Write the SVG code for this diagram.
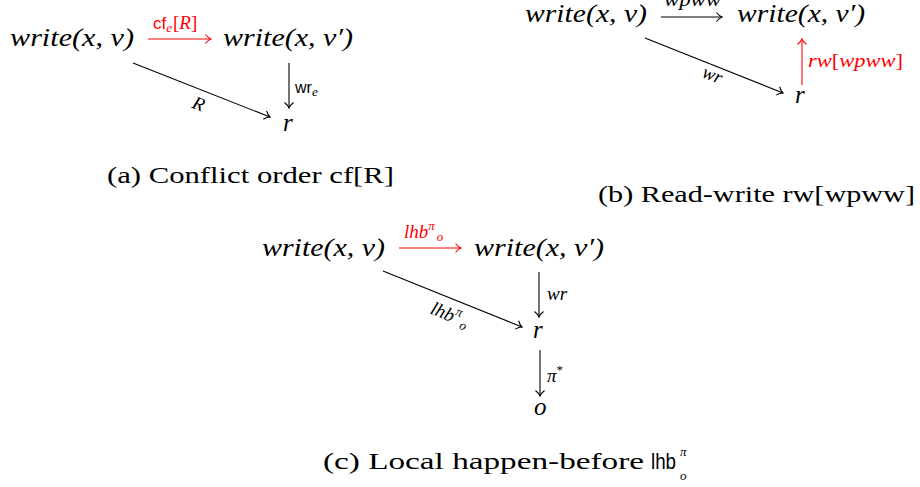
<svg xmlns="http://www.w3.org/2000/svg" width="920" height="487" viewBox="0 0 920 487">
<style>
.m{font-family:"Liberation Serif",serif;font-style:italic;font-size:25px;fill:#000}
.cap{font-family:"Liberation Serif",serif;font-size:23px;fill:#000}
.lb{font-family:"Liberation Serif",serif;font-style:italic;font-size:19px;fill:#000}
.sf{font-family:"Liberation Sans",sans-serif;font-style:normal}
.red{fill:#ff0000}
.ln{stroke:#000;stroke-width:1.1;fill:none}
.lnr{stroke:#ff0000;stroke-width:1.1;fill:none}
</style>
<defs>
<marker id="ah" markerUnits="userSpaceOnUse" markerWidth="12" markerHeight="12" viewBox="-7 -6 8 12" refX="0" refY="0" orient="auto">
<path d="M-5.5,-4.5 C-3.5,-2 -1.5,-0.6 0,0 C-1.5,0.6 -3.5,2 -5.5,4.5" fill="none" stroke="#000" stroke-width="1.1"/>
</marker>
<marker id="ahr" markerUnits="userSpaceOnUse" markerWidth="12" markerHeight="12" viewBox="-7 -6 8 12" refX="0" refY="0" orient="auto">
<path d="M-5.5,-4.5 C-3.5,-2 -1.5,-0.6 0,0 C-1.5,0.6 -3.5,2 -5.5,4.5" fill="none" stroke="#ff0000" stroke-width="1.1"/>
</marker>
</defs>

<g id="connectors">
<!-- panel a -->
<line class="lnr" x1="148" y1="39" x2="211" y2="39" marker-end="url(#ahr)"/>
<line class="ln" x1="133" y1="63" x2="270" y2="117" marker-end="url(#ah)"/>
<line class="ln" x1="289" y1="63" x2="289" y2="108" marker-end="url(#ah)"/>
<!-- panel b -->
<line class="ln" x1="661" y1="17" x2="722" y2="17" marker-end="url(#ah)"/>
<line class="ln" x1="645" y1="38" x2="783" y2="93" marker-end="url(#ah)"/>
<line class="lnr" x1="802" y1="85" x2="802" y2="39" marker-end="url(#ahr)"/>
<!-- panel c -->
<line class="lnr" x1="399" y1="248" x2="461" y2="248" marker-end="url(#ahr)"/>
<line class="ln" x1="383" y1="271" x2="522" y2="327" marker-end="url(#ah)"/>
<line class="ln" x1="539" y1="272" x2="539" y2="317" marker-end="url(#ah)"/>
<line class="ln" x1="540" y1="350" x2="540" y2="396" marker-end="url(#ah)"/>
<!-- labels -->
<text class="lb red" x="153" y="29"><tspan class="sf" font-size="17">cf</tspan><tspan dy="3" font-size="13">e</tspan><tspan dy="-3" dx="1" font-style="normal">[</tspan>R<tspan font-style="normal">]</tspan></text>
<text class="lb" x="295" y="93"><tspan class="sf" font-size="16">wr</tspan><tspan dy="3" font-size="13">e</tspan></text>
<text class="lb" x="199" y="110" text-anchor="middle" transform="rotate(21.5 199 103)">R</text>
<text class="lb" x="664" y="6" textLength="57" lengthAdjust="spacingAndGlyphs">wpww</text>
<text class="lb" x="713" y="81" text-anchor="middle" transform="rotate(21.7 713 74)">wr</text>
<text class="lb red" x="808" y="67" textLength="95" lengthAdjust="spacingAndGlyphs">rw<tspan font-style="normal">[</tspan>wpww<tspan font-style="normal">]</tspan></text>
<text class="lb red" x="404" y="238">lhb<tspan dy="-8" font-size="13">π</tspan><tspan dy="11" font-size="13" dx="2">o</tspan></text>
<text class="lb" x="450" y="321" text-anchor="middle" transform="rotate(22 450 314)">lhb<tspan dy="-8" font-size="13">π</tspan><tspan dy="11" font-size="13" dx="2">o</tspan></text>
<text class="lb" x="547" y="300">wr</text>
<text class="lb" x="547" y="382">π<tspan dy="-8" font-size="13" font-style="normal">*</tspan></text>
</g>

<g id="node-a-w1"><text class="m" x="10" y="46" textLength="124" lengthAdjust="spacingAndGlyphs">write(x, v)</text></g>
<g id="node-a-w2"><text class="m" x="223" y="46" textLength="130" lengthAdjust="spacingAndGlyphs">write(x, v′)</text></g>
<g id="node-a-r"><text class="m" x="283" y="131">r</text></g>
<g id="caption-a"><text class="cap" x="107" y="183" textLength="287" lengthAdjust="spacingAndGlyphs">(a) Conflict order cf[R]</text></g>

<g id="node-b-w1"><text class="m" x="525" y="22" textLength="122" lengthAdjust="spacingAndGlyphs">write(x, v)</text></g>
<g id="node-b-w2"><text class="m" x="737" y="22" textLength="128" lengthAdjust="spacingAndGlyphs">write(x, v′)</text></g>
<g id="node-b-r"><text class="m" x="795" y="103">r</text></g>
<g id="caption-b"><text class="cap" x="598" y="202" textLength="317" lengthAdjust="spacingAndGlyphs">(b) Read-write rw[wpww]</text></g>

<g id="node-c-w1"><text class="m" x="262" y="256" textLength="123" lengthAdjust="spacingAndGlyphs">write(x, v)</text></g>
<g id="node-c-w2"><text class="m" x="474" y="256" textLength="130" lengthAdjust="spacingAndGlyphs">write(x, v′)</text></g>
<g id="node-c-r"><text class="m" x="533" y="338">r</text></g>
<g id="node-c-o"><text class="m" x="534" y="415">o</text></g>
<g id="caption-c"><text class="cap" x="323" y="469" textLength="321" lengthAdjust="spacingAndGlyphs">(c) Local happen-before</text><text class="cap sf" x="651" y="469" style="font-size:22px" textLength="25" lengthAdjust="spacingAndGlyphs">lhb</text><text class="lb" x="680" y="456" style="font-size:13px">π</text><text class="lb" x="680" y="480" style="font-size:13px">o</text></g>
</svg>
